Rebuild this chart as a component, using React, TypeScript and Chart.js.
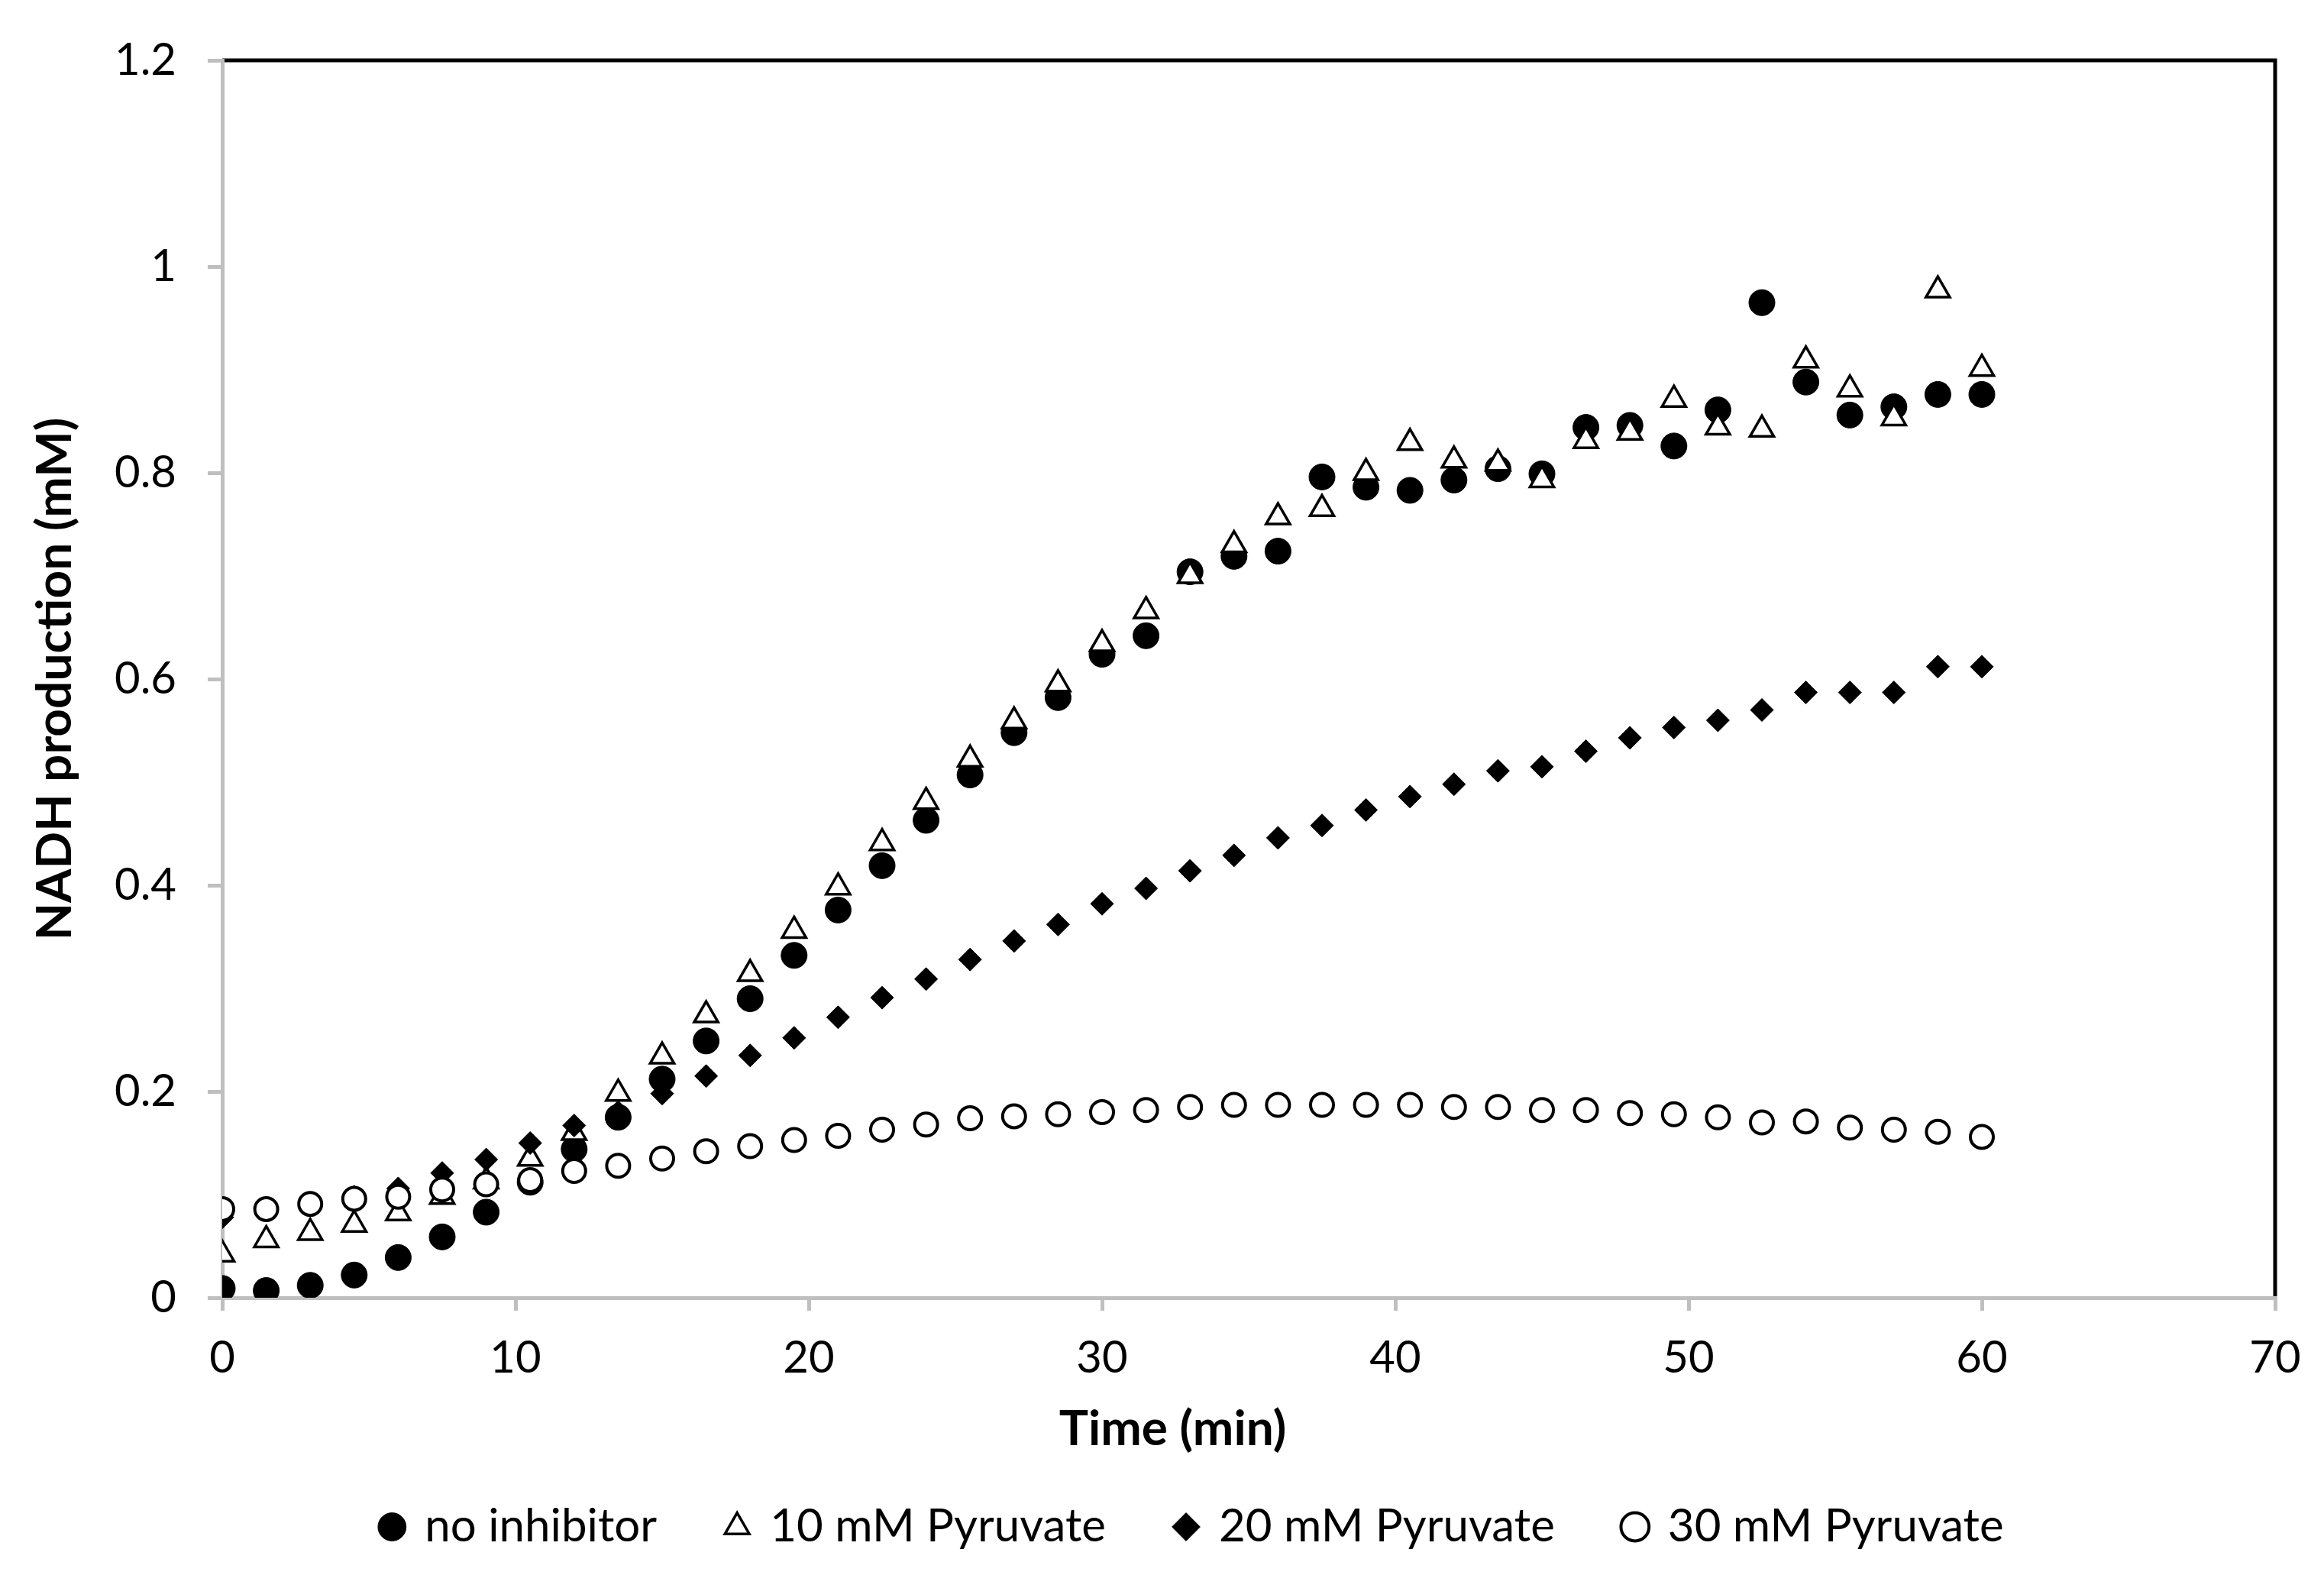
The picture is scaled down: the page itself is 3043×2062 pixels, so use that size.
import React, { useEffect, useRef } from "react";
import { Chart, registerables } from "chart.js";

Chart.register(...registerables);

// ---- data ----
const timeMin = [
  0, 1.5, 3, 4.5, 6, 7.5, 9, 10.5, 12, 13.5, 15, 16.5, 18, 19.5, 21, 22.5, 24, 25.5, 27, 28.5,
  30, 31.5, 33, 34.5, 36, 37.5, 39, 40.5, 42, 43.5, 45, 46.5, 48, 49.5, 51, 52.5, 54, 55.5, 57,
  58.5, 60,
];

const noInhibitor = [
  0.009, 0.007, 0.012, 0.022, 0.039, 0.059, 0.083, 0.112, 0.144, 0.175, 0.212, 0.249, 0.29, 0.332,
  0.376, 0.419, 0.463, 0.507, 0.548, 0.582, 0.624, 0.642, 0.704, 0.719, 0.724, 0.796, 0.786, 0.783,
  0.793, 0.804, 0.799, 0.844, 0.846, 0.826, 0.861, 0.965, 0.888, 0.856, 0.864, 0.876, 0.876,
];

const pyruvate10 = [
  0.042, 0.056, 0.063, 0.071, 0.082, 0.098, 0.113, 0.135, 0.16, 0.198, 0.234, 0.274, 0.314, 0.356,
  0.398, 0.441, 0.481, 0.522, 0.559, 0.595, 0.634, 0.666, 0.7, 0.73, 0.757, 0.765, 0.8, 0.829,
  0.812, 0.809, 0.793, 0.831, 0.839, 0.871, 0.844, 0.842, 0.909, 0.881, 0.853, 0.977, 0.901,
];

const pyruvate20 = [
  0.078, 0.086, 0.092, 0.098, 0.106, 0.121, 0.134, 0.15, 0.167, 0.18, 0.198, 0.215, 0.235, 0.252,
  0.272, 0.291, 0.309, 0.328, 0.346, 0.362, 0.382, 0.397, 0.414, 0.429, 0.446, 0.458, 0.473, 0.486,
  0.498, 0.511, 0.515, 0.53, 0.543, 0.553, 0.56, 0.57, 0.587, 0.587, 0.587, 0.612, 0.612,
];

const pyruvate30 = [
  0.086, 0.086, 0.091, 0.096, 0.098, 0.105, 0.11, 0.114, 0.123, 0.128, 0.135, 0.142, 0.147, 0.153,
  0.157, 0.163, 0.168, 0.174, 0.176, 0.178, 0.18, 0.182, 0.185, 0.187, 0.187, 0.187, 0.187, 0.187,
  0.185, 0.185, 0.182, 0.182, 0.179, 0.178, 0.175, 0.17, 0.171, 0.165, 0.163, 0.161, 0.156,
];

const seriesLabels = ["no inhibitor", "10 mM Pyruvate", "20 mM Pyruvate", "30 mM Pyruvate"];
const xTitle = "Time (min)";
const yTitle = "NADH production (mM)";

const FONT = "Lato, 'Liberation Sans', sans-serif";
const AXIS_GRAY = "#bfbfbf";

const toPoints = (ys: number[]) => ys.map((y, i) => ({ x: timeMin[i], y }));

// black frame on top and right of the plot area (drawn before the gray axes)
const framePlugin = {
  id: "plotFrame",
  beforeDraw(chart: any) {
    const { ctx, chartArea: a } = chart;
    ctx.save();
    ctx.strokeStyle = "#000";
    ctx.lineWidth = 5;
    ctx.lineJoin = "miter";
    ctx.beginPath();
    ctx.moveTo(a.left, a.top);
    ctx.lineTo(a.right, a.top);
    ctx.lineTo(a.right, a.bottom);
    ctx.stroke();
    ctx.restore();
  },
};

// x-axis title centred on the whole chart (as in the reference), below the tick labels
const xTitlePlugin = {
  id: "xTitleCentered",
  afterDraw(chart: any) {
    const { ctx } = chart;
    const xs = chart.scales.x;
    ctx.save();
    ctx.fillStyle = "#000";
    ctx.font = `bold 64px ${FONT}`;
    ctx.textAlign = "center";
    ctx.textBaseline = "middle";
    ctx.fillText(xTitle, chart.width / 2 + 14, xs.top + 172);
    ctx.restore();
  },
};

export default function App() {
  const canvasRef = useRef<HTMLCanvasElement | null>(null);

  useEffect(() => {
    if (!canvasRef.current) return;
    Chart.defaults.font.family = FONT;
    const chart = new Chart(canvasRef.current, {
      type: "scatter",
      data: {
        datasets: [
          {
            label: seriesLabels[0],
            data: toPoints(noInhibitor),
            pointStyle: "circle",
            pointRadius: 17,
            backgroundColor: "#000",
            borderColor: "#000",
            borderWidth: 1,
            order: 4,
          },
          {
            label: seriesLabels[1],
            data: toPoints(pyruvate10),
            pointStyle: "triangle",
            pointRadius: 18,
            backgroundColor: "#fff",
            borderColor: "#000",
            borderWidth: 3.5,
            order: 3,
          },
          {
            label: seriesLabels[2],
            data: toPoints(pyruvate20),
            pointStyle: "rectRot",
            pointRadius: 15,
            backgroundColor: "#000",
            borderColor: "#000",
            borderWidth: 1,
            order: 2,
          },
          {
            label: seriesLabels[3],
            data: toPoints(pyruvate30),
            pointStyle: "circle",
            pointRadius: 15,
            backgroundColor: "#fff",
            borderColor: "#000",
            borderWidth: 4,
            order: 1,
          },
        ],
      },
      options: {
        animation: false,
        responsive: true,
        maintainAspectRatio: false,
        devicePixelRatio: 1,
        layout: { padding: { top: 79, right: 64, bottom: 23, left: 145 } },
        plugins: {
          tooltip: { enabled: false },
          legend: {
            position: "bottom",
            labels: {
              usePointStyle: true,
              boxWidth: 26,
              boxHeight: 26,
              padding: 92,
              color: "#000",
              font: { family: FONT, size: 60 },
              sort: (a: any, b: any) => a.datasetIndex - b.datasetIndex,
            },
          },
        },
        scales: {
          x: {
            type: "linear",
            min: 0,
            max: 70,
            ticks: {
              stepSize: 10,
              color: "#000",
              padding: 27,
              font: { family: FONT, size: 58 },
            },
            grid: {
              drawOnChartArea: false,
              drawTicks: true,
              tickLength: 17,
              color: AXIS_GRAY,
              lineWidth: 5,
            },
            border: { color: AXIS_GRAY, width: 5 },
            title: { display: false, text: xTitle },
            afterFit: (s: any) => {
              s.height = 178;
            },
          },
          y: {
            type: "linear",
            min: 0,
            max: 1.2,
            ticks: {
              stepSize: 0.2,
              color: "#000",
              padding: 41,
              font: { family: FONT, size: 58 },
              callback: (v: any) => String(Number(Number(v).toFixed(2))),
            },
            grid: {
              drawOnChartArea: false,
              drawTicks: true,
              tickLength: 19,
              color: AXIS_GRAY,
              lineWidth: 5,
            },
            border: { color: AXIS_GRAY, width: 5 },
            title: {
              display: true,
              text: yTitle,
              color: "#000",
              font: { family: FONT, size: 64, weight: "bold" },
              padding: { top: -111, bottom: 0 },
            },
            afterFit: (s: any) => {
              s.width = 146;
            },
          },
        },
      },
      plugins: [framePlugin, xTitlePlugin],
    } as any);
    return () => chart.destroy();
  }, []);

  return (
    <div
      style={{
        position: "fixed",
        left: 0,
        top: 0,
        width: "3043px",
        height: "2062px",
        background: "#fff",
      }}
    >
      <canvas ref={canvasRef} />
    </div>
  );
}
